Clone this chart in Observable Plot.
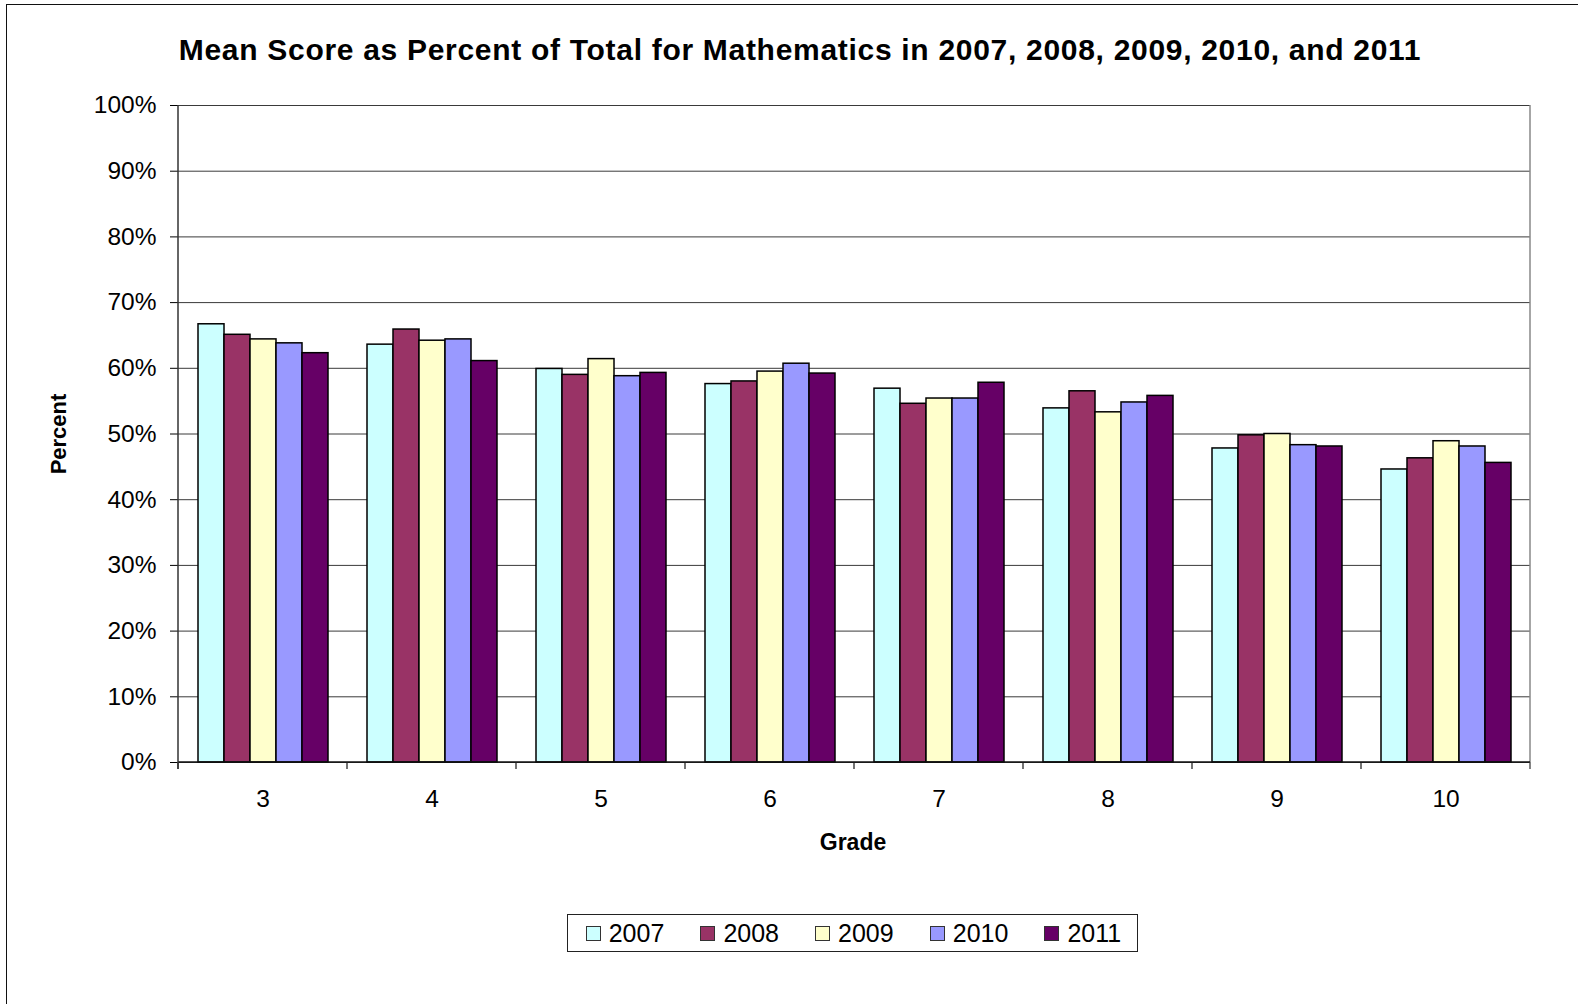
<!DOCTYPE html>
<html>
<head>
<meta charset="utf-8">
<script src="https://cdn.jsdelivr.net/npm/d3@7"></script>
<script src="https://cdn.jsdelivr.net/npm/@observablehq/plot@0.6"></script>
<style>
  html, body { margin: 0; padding: 0; width: 1578px; height: 1004px; overflow: hidden; background: #fff; }
  body { position: relative; font-family: "Liberation Sans", Arial, sans-serif; color: #000; }
  #frame { position: absolute; left: 6px; top: 4px; width: 1700px; height: 1100px; border: 1.5px solid #111; box-sizing: border-box; }
  #title { position: absolute; left: 0; width: 1600px; top: 35px; text-align: center; font-weight: bold; font-size: 30px; line-height: 30px; letter-spacing: 0.7px; white-space: nowrap; }
  #chart { position: absolute; left: 0; top: 0; }
  #ylabel { position: absolute; left: 59px; top: 434px; transform: translate(-50%, -50%) rotate(-90deg); font-weight: bold; font-size: 22px; line-height: 22px; white-space: nowrap; }
  #xlabel { position: absolute; left: 753px; width: 200px; top: 831px; text-align: center; font-weight: bold; font-size: 23px; line-height: 23px; }
  #legend { position: absolute; left: 567px; top: 914px; width: 571px; height: 38px; border: 1px solid #222; box-sizing: border-box; display: flex; align-items: center; padding-left: 17.7px; }
  .item { flex: none; width: 114.7px; display: flex; align-items: center; font-size: 25px; line-height: 25px; }
  .sw { width: 15px; height: 15px; border: 1px solid #333; box-sizing: border-box; margin-right: 8px; flex: none; }
</style>
</head>
<body>
<div id="frame"></div>
<div id="title">Mean Score as Percent of Total for Mathematics in 2007, 2008, 2009, 2010, and 2011</div>
<div id="chart"></div>
<div id="ylabel">Percent</div>
<div id="xlabel">Grade</div>
<div id="legend"></div>
<script>
const grades = [3, 4, 5, 6, 7, 8, 9, 10];
const years = ["2007", "2008", "2009", "2010", "2011"];
const colors = ["#CCFFFF", "#993366", "#FFFFCC", "#9999FF", "#660066"];
const s2007 = [66.7, 63.6, 59.9, 57.6, 56.9, 53.9, 47.8, 44.6];
const s2008 = [65.1, 65.9, 59.0, 58.0, 54.6, 56.5, 49.8, 46.3];
const s2009 = [64.4, 64.2, 61.4, 59.5, 55.4, 53.3, 50.0, 48.9];
const s2010 = [63.8, 64.4, 58.8, 60.7, 55.4, 54.8, 48.3, 48.1];
const s2011 = [62.3, 61.1, 59.3, 59.2, 57.8, 55.8, 48.1, 45.6];
const yTicks = [0, 10, 20, 30, 40, 50, 60, 70, 80, 90, 100];

const series = [s2007, s2008, s2009, s2010, s2011];
const data = [];
grades.forEach((g, i) => years.forEach((y, j) => data.push({grade: g, year: y, value: series[j][i]})));

const plot = Plot.plot({
  width: 1578,
  height: 880,
  marginLeft: 177,
  marginRight: 47,
  marginTop: 105,
  marginBottom: 118,
  style: {fontFamily: "'Liberation Sans', Arial, sans-serif", fontSize: "24.5px", color: "#000", background: "transparent", overflow: "visible"},
  fx: {domain: grades, padding: 0, label: null, tickSize: 0, tickPadding: 27},
  x: {domain: years, paddingInner: 0, paddingOuter: 0.75, axis: null},
  y: {domain: [0, 100], ticks: 10, tickFormat: d => d + "%", tickSize: 8, tickPadding: 14, label: null},
  color: {domain: years, range: colors},
  marks: [
    Plot.ruleY(yTicks, {stroke: "#3a3a3a", strokeWidth: 1}),
    Plot.barY(data, {fx: "grade", x: "year", y: "value", fill: "year", stroke: "#000", strokeWidth: 1.5})
  ]
});
document.getElementById("chart").appendChild(plot);

// axis lines and category-boundary ticks from the library's own scales
const fx = plot.scale("fx");
const ys = plot.scale("y");
const y0 = ys.apply(0), y100 = ys.apply(100);
const svg = d3.select(plot);
const g = svg.append("g");
const bounds = grades.map(v => fx.apply(v)).concat([fx.apply(grades[grades.length - 1]) + fx.bandwidth]);
bounds.forEach((bx) => {
  g.append("line").attr("x1", bx).attr("x2", bx).attr("y1", y0).attr("y2", y0 + 7)
    .attr("stroke", "#444").attr("stroke-width", 1.5);
});
// right border
const xr = bounds[bounds.length - 1];
g.append("line").attr("x1", xr).attr("x2", xr).attr("y1", y100).attr("y2", y0 + 7).attr("stroke", "#888").attr("stroke-width", 1.5);
// bottom axis line
g.append("line").attr("x1", bounds[0]).attr("x2", xr).attr("y1", y0).attr("y2", y0).attr("stroke", "#111").attr("stroke-width", 1.5);
// left axis line
g.append("line").attr("x1", bounds[0]).attr("x2", bounds[0]).attr("y1", y100).attr("y2", y0 + 7).attr("stroke", "#333").attr("stroke-width", 1.5);

// legend
const leg = document.getElementById("legend");
years.forEach((y, i) => {
  const it = document.createElement("div");
  it.className = "item";
  const sw = document.createElement("div");
  sw.className = "sw";
  sw.style.background = colors[i];
  const tx = document.createElement("span");
  tx.textContent = y;
  it.appendChild(sw);
  it.appendChild(tx);
  leg.appendChild(it);
});
</script>
</body>
</html>
